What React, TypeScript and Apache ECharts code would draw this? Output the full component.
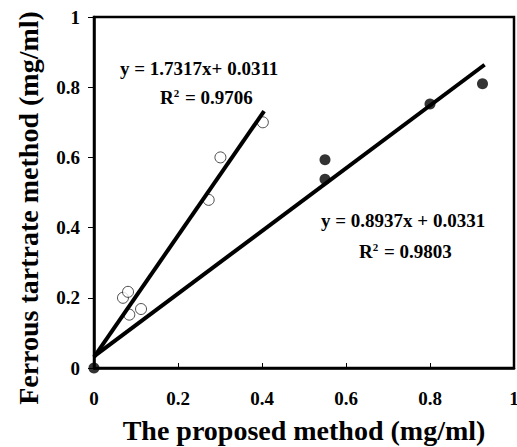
import React, { useEffect, useRef } from "react";
import * as echarts from "echarts";

const xTicks = [0, 0.2, 0.4, 0.6, 0.8, 1];
const yTicks = [0, 0.2, 0.4, 0.6, 0.8, 1];

// open circles (fit 1)
const openX = [0.069, 0.081, 0.084, 0.112, 0.273, 0.301, 0.402];
const openY = [0.2, 0.217, 0.152, 0.168, 0.479, 0.6, 0.7];

// filled circles (fit 2)
const filledX = [0, 0.55, 0.55, 0.8, 0.925];
const filledY = [0, 0.593, 0.538, 0.752, 0.81];

// regression line endpoints
const fit1X = [0, 0.405];
const fit1Y = [0.031, 0.732];
const fit2X = [0, 0.93];
const fit2Y = [0.033, 0.864];

const eq1 = "y = 1.7317x+ 0.0311";
const r1 = "0.9706";
const eq2 = "y = 0.8937x + 0.0331";
const r2 = "0.9803";
const xTitle = "The proposed method (mg/ml)";
const yTitle = "Ferrous tartrate method (mg/ml)";

const FONT = "'Liberation Serif', 'Times New Roman', serif";

export default function App() {
  const ref = useRef<HTMLDivElement>(null);
  useEffect(() => {
    document.body.style.margin = "0";
    const chart = echarts.init(ref.current!, null, { renderer: "svg" });
    const zip = (xs: number[], ys: number[]) => xs.map((x, i) => [x, ys[i]]);
    const textStyle = { fontFamily: FONT, fontWeight: "bold", fontSize: 19, fill: "#000" };
    const rText = () => ({
      rich: {
        r: { fontFamily: FONT, fontWeight: "bold", fontSize: 19, color: "#000" },
        s: { fontFamily: FONT, fontWeight: "bold", fontSize: 11, color: "#000", verticalAlign: "top", padding: [0, 1, 10, 0] },
      },
    });
    const fmt = (ticks: number[]) => (v: number) => {
      const r = Math.round(v * 10) / 10;
      return ticks.includes(r) ? String(r) : "";
    };
    chart.setOption({
      animation: false,
      grid: {
        left: 94, right: 3, top: 17, bottom: 79,
        containLabel: false, outerBoundsMode: "none",
        show: true, borderColor: "#000", borderWidth: 2.5,
      },
      xAxis: {
        type: "value",
        min: 0,
        max: 1,
        interval: 0.2,
        name: xTitle,
        nameLocation: "middle",
        nameGap: 48,
        nameTextStyle: { fontFamily: FONT, fontWeight: "bold", fontSize: 28, color: "#000" },
        axisLine: { show: true, onZero: false, lineStyle: { color: "#000", width: 2.5 } },
        axisTick: { show: true, inside: true, length: 5, lineStyle: { color: "#000", width: 1 } },
        axisLabel: { fontFamily: FONT, fontWeight: "bold", fontSize: 19, color: "#000", margin: 21, formatter: fmt(xTicks) },
        splitLine: { show: false },
      },
      yAxis: {
        type: "value",
        min: 0,
        max: 1,
        interval: 0.2,
        axisLine: { show: true, onZero: false, lineStyle: { color: "#000", width: 2.5 } },
        axisTick: { show: true, inside: false, length: 6, lineStyle: { color: "#000", width: 1 } },
        axisLabel: { fontFamily: FONT, fontWeight: "bold", fontSize: 19, color: "#000", margin: 14, formatter: fmt(yTicks) },
        splitLine: { show: false },
      },
      series: [
        {
          type: "scatter",
          data: zip(openX, openY),
          symbol: "circle",
          symbolSize: 11,
          itemStyle: { color: "#fff", borderColor: "#222", borderWidth: 1 },
          z: 2,
        },
        {
          type: "line",
          data: zip(fit1X, fit1Y),
          showSymbol: false,
          lineStyle: { color: "#000", width: 4 },
          z: 3,
        },
        {
          type: "line",
          data: zip(fit2X, fit2Y),
          showSymbol: false,
          lineStyle: { color: "#000", width: 4 },
          z: 3,
        },
        {
          type: "scatter",
          data: zip(filledX, filledY),
          symbol: "circle",
          symbolSize: 11,
          itemStyle: { color: "#000" },
          z: 4,
        },
      ],
      graphic: [
        {
          type: "text", x: 28, y: 208, rotation: Math.PI / 2,
          style: { text: yTitle, fontFamily: FONT, fontWeight: "bold", fontSize: 28, fill: "#000", textAlign: "center", textVerticalAlign: "middle" },
        },
        { type: "text", left: 120, top: 59, style: { ...textStyle, text: eq1 } },
        { type: "text", left: 160, top: 87, style: { text: "{r|R}{s|2}{r| = " + r1 + "}", ...rText() } },
        { type: "text", left: 321, top: 211, style: { ...textStyle, text: eq2 } },
        { type: "text", left: 359, top: 241, style: { text: "{r|R}{s|2}{r| = " + r2 + "}", ...rText() } },
      ],
    });
    return () => chart.dispose();
  }, []);
  return <div ref={ref} style={{ width: 517, height: 447 }} />;
}
